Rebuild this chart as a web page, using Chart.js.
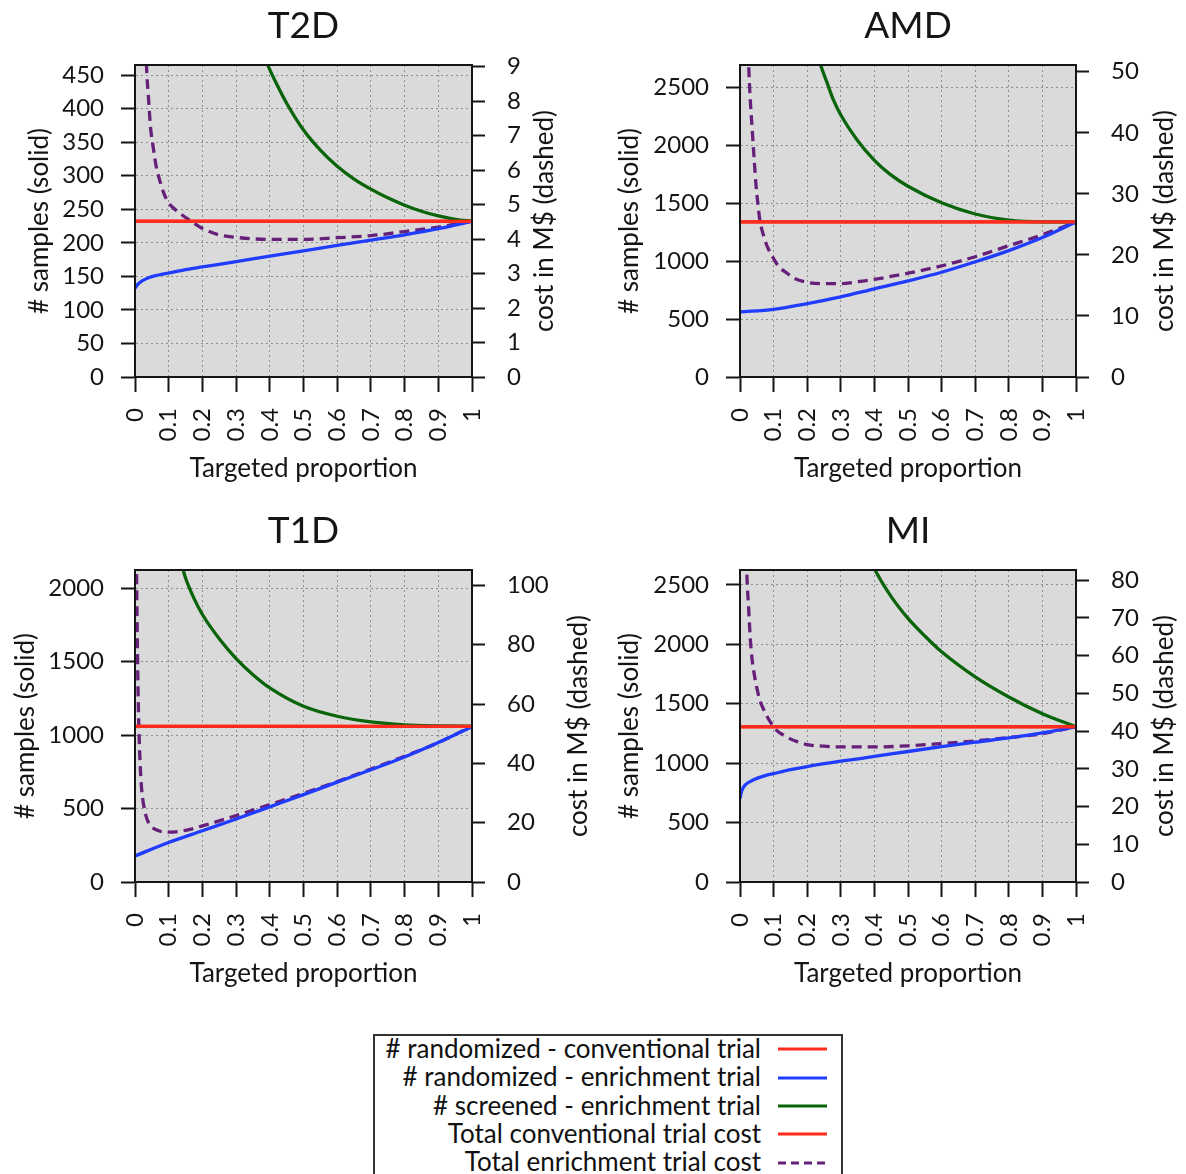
<!DOCTYPE html>
<html><head><meta charset="utf-8">
<script src="https://cdn.jsdelivr.net/npm/chart.js@4.4.1/dist/chart.umd.min.js"></script>
<style>
html,body{margin:0;padding:0;background:#fff;overflow:hidden;}
#wrap{position:relative;width:1186px;height:1174px;overflow:hidden;}
canvas{position:absolute;}
#legend{position:absolute;left:373px;top:1034px;width:466px;height:160px;border:2px solid #333;background:#fff;font-family:Lato,"DejaVu Sans",sans-serif;font-size:26px;color:#111;}
.row{position:absolute;left:0;width:386px;text-align:right;line-height:28px;white-space:nowrap;}
.sw{position:absolute;left:403px;width:50px;height:6px;overflow:visible;}
</style></head>
<body><div id="wrap">
<canvas id="c1" width="593" height="495" style="left:0;top:0"></canvas>
<canvas id="c2" width="593" height="495" style="left:593px;top:0"></canvas>
<canvas id="c3" width="593" height="495" style="left:0;top:505px"></canvas>
<canvas id="c4" width="593" height="495" style="left:593px;top:505px"></canvas>
<div id="legend"></div>
</div>
<script>
// ---------- shared axis labels ----------
const xTickValues = [0,0.1,0.2,0.3,0.4,0.5,0.6,0.7,0.8,0.9,1];
const xTickLabels = ['0','0.1','0.2','0.3','0.4','0.5','0.6','0.7','0.8','0.9','1'];
const legendLabels = ['# randomized - conventional trial','# randomized - enrichment trial','# screened - enrichment trial','Total conventional trial cost','Total enrichment trial cost'];

// ---------- T2D ----------
const t2dLeftTicks = [0,50,100,150,200,250,300,350,400,450];
const t2dLeftMax = 465;
const t2dRightTicks = [0,1,2,3,4,5,6,7,8,9];
const t2dRightMax = 9.05;
const t2dConvX = [0,1];
const t2dConvN = [232,232];
const t2dConvCost = [4.52,4.52];
const t2dEnrX = [0,0.005,0.01,0.02,0.04,0.07,0.1,0.15,0.2,0.3,0.4,0.5,0.6,0.7,0.8,0.9,1];
const t2dEnrN = [132,136,139,143,148,152,155,160,164,172,180,188,196,204,212,221,232];
const t2dScrX = [0.37,0.394,0.42,0.45,0.5,0.55,0.6,0.65,0.7,0.75,0.8,0.85,0.9,0.95,1];
const t2dScrN = [500,465,437,408,368,338,314,295,280,267,256,247,240,235,232];
const t2dCostX = [0.03,0.034,0.04,0.046,0.055,0.063,0.075,0.086,0.1,0.12,0.154,0.2,0.25,0.3,0.4,0.5,0.6,0.7,0.8,0.9,1];
const t2dCost = [10.5,9.05,8.1,7.25,6.6,6.1,5.65,5.32,5.05,4.85,4.6,4.31,4.12,4.05,3.99,3.99,4.04,4.1,4.22,4.35,4.52];

// ---------- AMD ----------
const amdLeftTicks = [0,500,1000,1500,2000,2500];
const amdLeftMax = 2695;
const amdRightTicks = [0,10,20,30,40,50];
const amdRightMax = 51.1;
const amdConvX = [0,1];
const amdConvN = [1340,1340];
const amdConvCost = [25.4,25.4];
const amdEnrX = [0,0.1,0.2,0.3,0.4,0.5,0.6,0.7,0.8,0.9,1];
const amdEnrN = [562,585,634,692,762,830,905,995,1092,1205,1340];
const amdScrX = [0.23,0.24,0.258,0.278,0.3,0.348,0.4,0.447,0.5,0.6,0.7,0.8,0.9,1];
const amdScrN = [2800,2695,2551,2393,2263,2050,1872,1750,1648,1505,1408,1356,1341,1340];
const amdCostX = [0.024,0.026,0.03,0.037,0.043,0.048,0.054,0.059,0.07,0.081,0.1,0.115,0.14,0.16,0.2,0.25,0.3,0.35,0.4,0.5,0.6,0.7,0.8,0.9,1];
const amdCost = [56,51.1,46,40,35,31.2,28,25.7,23.2,21.4,19.4,18.1,17,16.2,15.5,15.3,15.3,15.6,16.0,17.0,18.2,19.7,21.5,23.3,25.4];

// ---------- T1D ----------
const t1dLeftTicks = [0,500,1000,1500,2000];
const t1dLeftMax = 2125;
const t1dRightTicks = [0,20,40,60,80,100];
const t1dRightMax = 105.2;
const t1dConvX = [0,1];
const t1dConvN = [1060,1060];
const t1dConvCost = [52.5,52.5];
const t1dEnrX = [0,0.1,0.2,0.3,0.4,0.5,0.6,0.7,0.8,0.9,1];
const t1dEnrN = [178,269,349,429,512,595,680,765,852,950,1058];
const t1dScrX = [0.135,0.143,0.15,0.175,0.2,0.25,0.3,0.35,0.4,0.5,0.6,0.7,0.8,0.9,1];
const t1dScrN = [2200,2125,2070,1932,1822,1657,1522,1412,1322,1197,1129,1090,1070,1063,1060];
const t1dCostX = [0.003,0.006,0.009,0.012,0.016,0.02,0.03,0.04,0.05,0.07,0.1,0.15,0.2,0.3,0.4,0.5,0.6,0.7,0.8,0.9,1];
const t1dCost = [120,90,65,50,38,31,23.5,20,18.5,17.3,16.8,17.4,18.9,22.4,26.1,29.9,33.9,38.1,42.4,47.0,52.5];

// ---------- MI ----------
const miLeftTicks = [0,500,1000,1500,2000,2500];
const miLeftMax = 2625;
const miRightTicks = [0,10,20,30,40,50,60,70,80];
const miRightMax = 82.7;
const miConvX = [0,1];
const miConvN = [1306,1306];
const miConvCost = [41.2,41.2];
const miEnrX = [0,0.003,0.007,0.015,0.03,0.05,0.075,0.1,0.15,0.2,0.3,0.4,0.5,0.6,0.7,0.8,0.9,1];
const miEnrN = [700,745,780,815,845,872,895,912,945,971,1016,1056,1098,1138,1176,1212,1255,1306];
const miScrX = [0.39,0.402,0.45,0.5,0.55,0.6,0.7,0.8,0.9,1];
const miScrN = [2700,2625,2401,2218,2070,1937,1726,1557,1416,1306];
const miCostX = [0.018,0.02,0.026,0.031,0.036,0.042,0.05,0.059,0.07,0.081,0.095,0.109,0.13,0.148,0.17,0.2,0.25,0.3,0.4,0.5,0.6,0.7,0.8,0.9,1];
const miCost = [90,82.7,72,64,59,55.3,51.5,48.2,45.8,43.8,41.8,40.2,38.9,38.0,37.2,36.4,36.0,35.8,35.8,36.1,36.7,37.4,38.3,39.3,41.2];

// ---------- styling ----------
const FONT = 'Lato, "DejaVu Sans", sans-serif';
const INK = '#151515';
const COLORS = ['#ff2b1c','#1f3cff','#0a640a','#ff2b1c','#66207a'];
const DASH = [10,6];

const pts = (xs, ys) => xs.map((x, i) => ({x, y: ys[i]}));

const bgPlugin = {
  id: 'plotbg',
  beforeDraw(chart) {
    const {ctx, chartArea: a} = chart;
    ctx.save(); ctx.fillStyle = '#dadada';
    ctx.fillRect(a.left, a.top, a.right - a.left, a.bottom - a.top);
    ctx.restore();
  }
};
const boxPlugin = {
  id: 'plotbox',
  afterDraw(chart) {
    const {ctx, chartArea: a} = chart;
    ctx.save(); ctx.strokeStyle = INK; ctx.lineWidth = 2;
    ctx.strokeRect(a.left, a.top, a.right - a.left, a.bottom - a.top);
    const o = chart.options.plugins.rightTitle;
    ctx.translate(a.right + o.offset, (a.top + a.bottom) / 2);
    ctx.rotate(-Math.PI / 2);
    ctx.font = '26px ' + FONT; ctx.fillStyle = INK;
    ctx.textAlign = 'center'; ctx.textBaseline = 'middle';
    ctx.fillText(o.text, 0, 0);
    ctx.restore();
  }
};

function makePanel(spec) {
  const d = spec.data;
  const datasets = [
    {data: pts(d.convX, d.convN), yAxisID: 'y'},
    {data: pts(d.enrX, d.enrN), yAxisID: 'y'},
    {data: pts(d.scrX, d.scrN), yAxisID: 'y'},
    {data: pts(d.convX, d.convCost), yAxisID: 'y2'},
    {data: pts(d.costX, d.cost), yAxisID: 'y2', borderDash: DASH}
  ].map((ds, i) => Object.assign({
    label: legendLabels[i], borderColor: COLORS[i], borderWidth: 3.3, pointRadius: 0,
    fill: false, cubicInterpolationMode: 'monotone'
  }, ds));

  const tickFont = {family: FONT, size: 24};
  new Chart(document.getElementById(spec.id), {
    type: 'line',
    data: {datasets},
    options: {
      responsive: false, animation: false, devicePixelRatio: 1,
      layout: {padding: 0},
      events: [],
      plugins: {
        legend: {display: false}, tooltip: {enabled: false},
        title: {display: true, text: spec.title, fullSize: false, color: INK,
                font: {family: FONT, size: 37, weight: 'normal', lineHeight: 1.2},
                padding: {top: 4, bottom: 16.6}},
        rightTitle: {text: 'cost in M$ (dashed)', offset: spec.rTitleOff}
      },
      scales: {
        x: {
          type: 'linear', position: 'bottom', min: 0, max: 1,
          afterBuildTicks: ax => { ax.ticks = xTickValues.map(v => ({value: v})); },
          afterFit: ax => { ax.height = 118; },
          ticks: {autoSkip: false, minRotation: 90, maxRotation: 90, padding: 16, color: INK, font: tickFont,
                  callback: (v, i) => xTickLabels[i]},
          grid: {color: '#8e8e8e', lineWidth: 1, tickLength: 15, tickColor: INK, tickWidth: 2, tickBorderDash: []},
          border: {display: true, color: INK, width: 2, dash: [2, 3]},
          title: {display: true, text: 'Targeted proportion', color: INK, font: {family: FONT, size: 26, lineHeight: 1.2}, padding: {top: 0, bottom: 10.4}}
        },
        y: {
          type: 'linear', position: 'left', min: 0, max: spec.leftMax,
          afterBuildTicks: ax => { ax.ticks = spec.leftTicks.map(v => ({value: v})); },
          afterFit: ax => { ax.width = spec.leftW; },
          ticks: {padding: 17, color: INK, font: tickFont, callback: v => String(v)},
          grid: {color: '#8e8e8e', lineWidth: 1, tickLength: 14, tickColor: INK, tickWidth: 2, tickBorderDash: []},
          border: {display: true, color: INK, width: 2, dash: [2, 3]},
          title: {display: true, text: '# samples (solid)', color: INK, font: {family: FONT, size: 26, lineHeight: 1.2}, padding: {top: spec.lTitlePad, bottom: 0}}
        },
        y2: {
          type: 'linear', position: 'right', min: 0, max: spec.rightMax,
          afterBuildTicks: ax => { ax.ticks = spec.rightTicks.map(v => ({value: v})); },
          afterFit: ax => { ax.width = spec.rightW; },
          ticks: {padding: 22, color: INK, font: tickFont, callback: v => String(v)},
          grid: {drawOnChartArea: false, tickLength: 13, tickColor: INK, tickWidth: 2, tickBorderDash: []},
          border: {display: true, color: INK, width: 2}
        }
      }
    },
    plugins: [bgPlugin, boxPlugin]
  });
}

makePanel({id: 'c1', title: 'T2D', leftTicks: t2dLeftTicks, leftMax: t2dLeftMax, rightTicks: t2dRightTicks, rightMax: t2dRightMax,
  leftW: 135, rightW: 121, lTitlePad: 24.4, rTitleOff: 73,
  data: {convX: t2dConvX, convN: t2dConvN, convCost: t2dConvCost, enrX: t2dEnrX, enrN: t2dEnrN, scrX: t2dScrX, scrN: t2dScrN, costX: t2dCostX, cost: t2dCost}});
makePanel({id: 'c2', title: 'AMD', leftTicks: amdLeftTicks, leftMax: amdLeftMax, rightTicks: amdRightTicks, rightMax: amdRightMax,
  leftW: 147, rightW: 110, lTitlePad: 21.4, rTitleOff: 89,
  data: {convX: amdConvX, convN: amdConvN, convCost: amdConvCost, enrX: amdEnrX, enrN: amdEnrN, scrX: amdScrX, scrN: amdScrN, costX: amdCostX, cost: amdCost}});
makePanel({id: 'c3', title: 'T1D', leftTicks: t1dLeftTicks, leftMax: t1dLeftMax, rightTicks: t1dRightTicks, rightMax: t1dRightMax,
  leftW: 135, rightW: 121, lTitlePad: 10.4, rTitleOff: 107,
  data: {convX: t1dConvX, convN: t1dConvN, convCost: t1dConvCost, enrX: t1dEnrX, enrN: t1dEnrN, scrX: t1dScrX, scrN: t1dScrN, costX: t1dCostX, cost: t1dCost}});
makePanel({id: 'c4', title: 'MI', leftTicks: miLeftTicks, leftMax: miLeftMax, rightTicks: miRightTicks, rightMax: miRightMax,
  leftW: 147, rightW: 110, lTitlePad: 21.4, rTitleOff: 89,
  data: {convX: miConvX, convN: miConvN, convCost: miConvCost, enrX: miEnrX, enrN: miEnrN, scrX: miScrX, scrN: miScrN, costX: miCostX, cost: miCost}});

// ---------- legend ----------
const leg = document.getElementById('legend');
legendLabels.forEach((lab, i) => {
  const r = document.createElement('div');
  r.className = 'row';
  r.style.top = (-2 + 28.3 * i) + 'px';
  r.textContent = lab;
  leg.appendChild(r);
  const svgNS = 'http://www.w3.org/2000/svg';
  const s = document.createElementNS(svgNS, 'svg');
  s.setAttribute('class', 'sw');
  s.setAttribute('width', '50'); s.setAttribute('height', '6');
  s.style.top = (10.3 + 28.3 * i) + 'px';
  const l = document.createElementNS(svgNS, 'line');
  l.setAttribute('x1', '0'); l.setAttribute('x2', '49');
  l.setAttribute('y1', '3'); l.setAttribute('y2', '3');
  l.setAttribute('stroke', COLORS[i]); l.setAttribute('stroke-width', '3');
  if (i === 4) l.setAttribute('stroke-dasharray', '8,5');
  s.appendChild(l);
  leg.appendChild(s);
});
</script>
</body></html>
